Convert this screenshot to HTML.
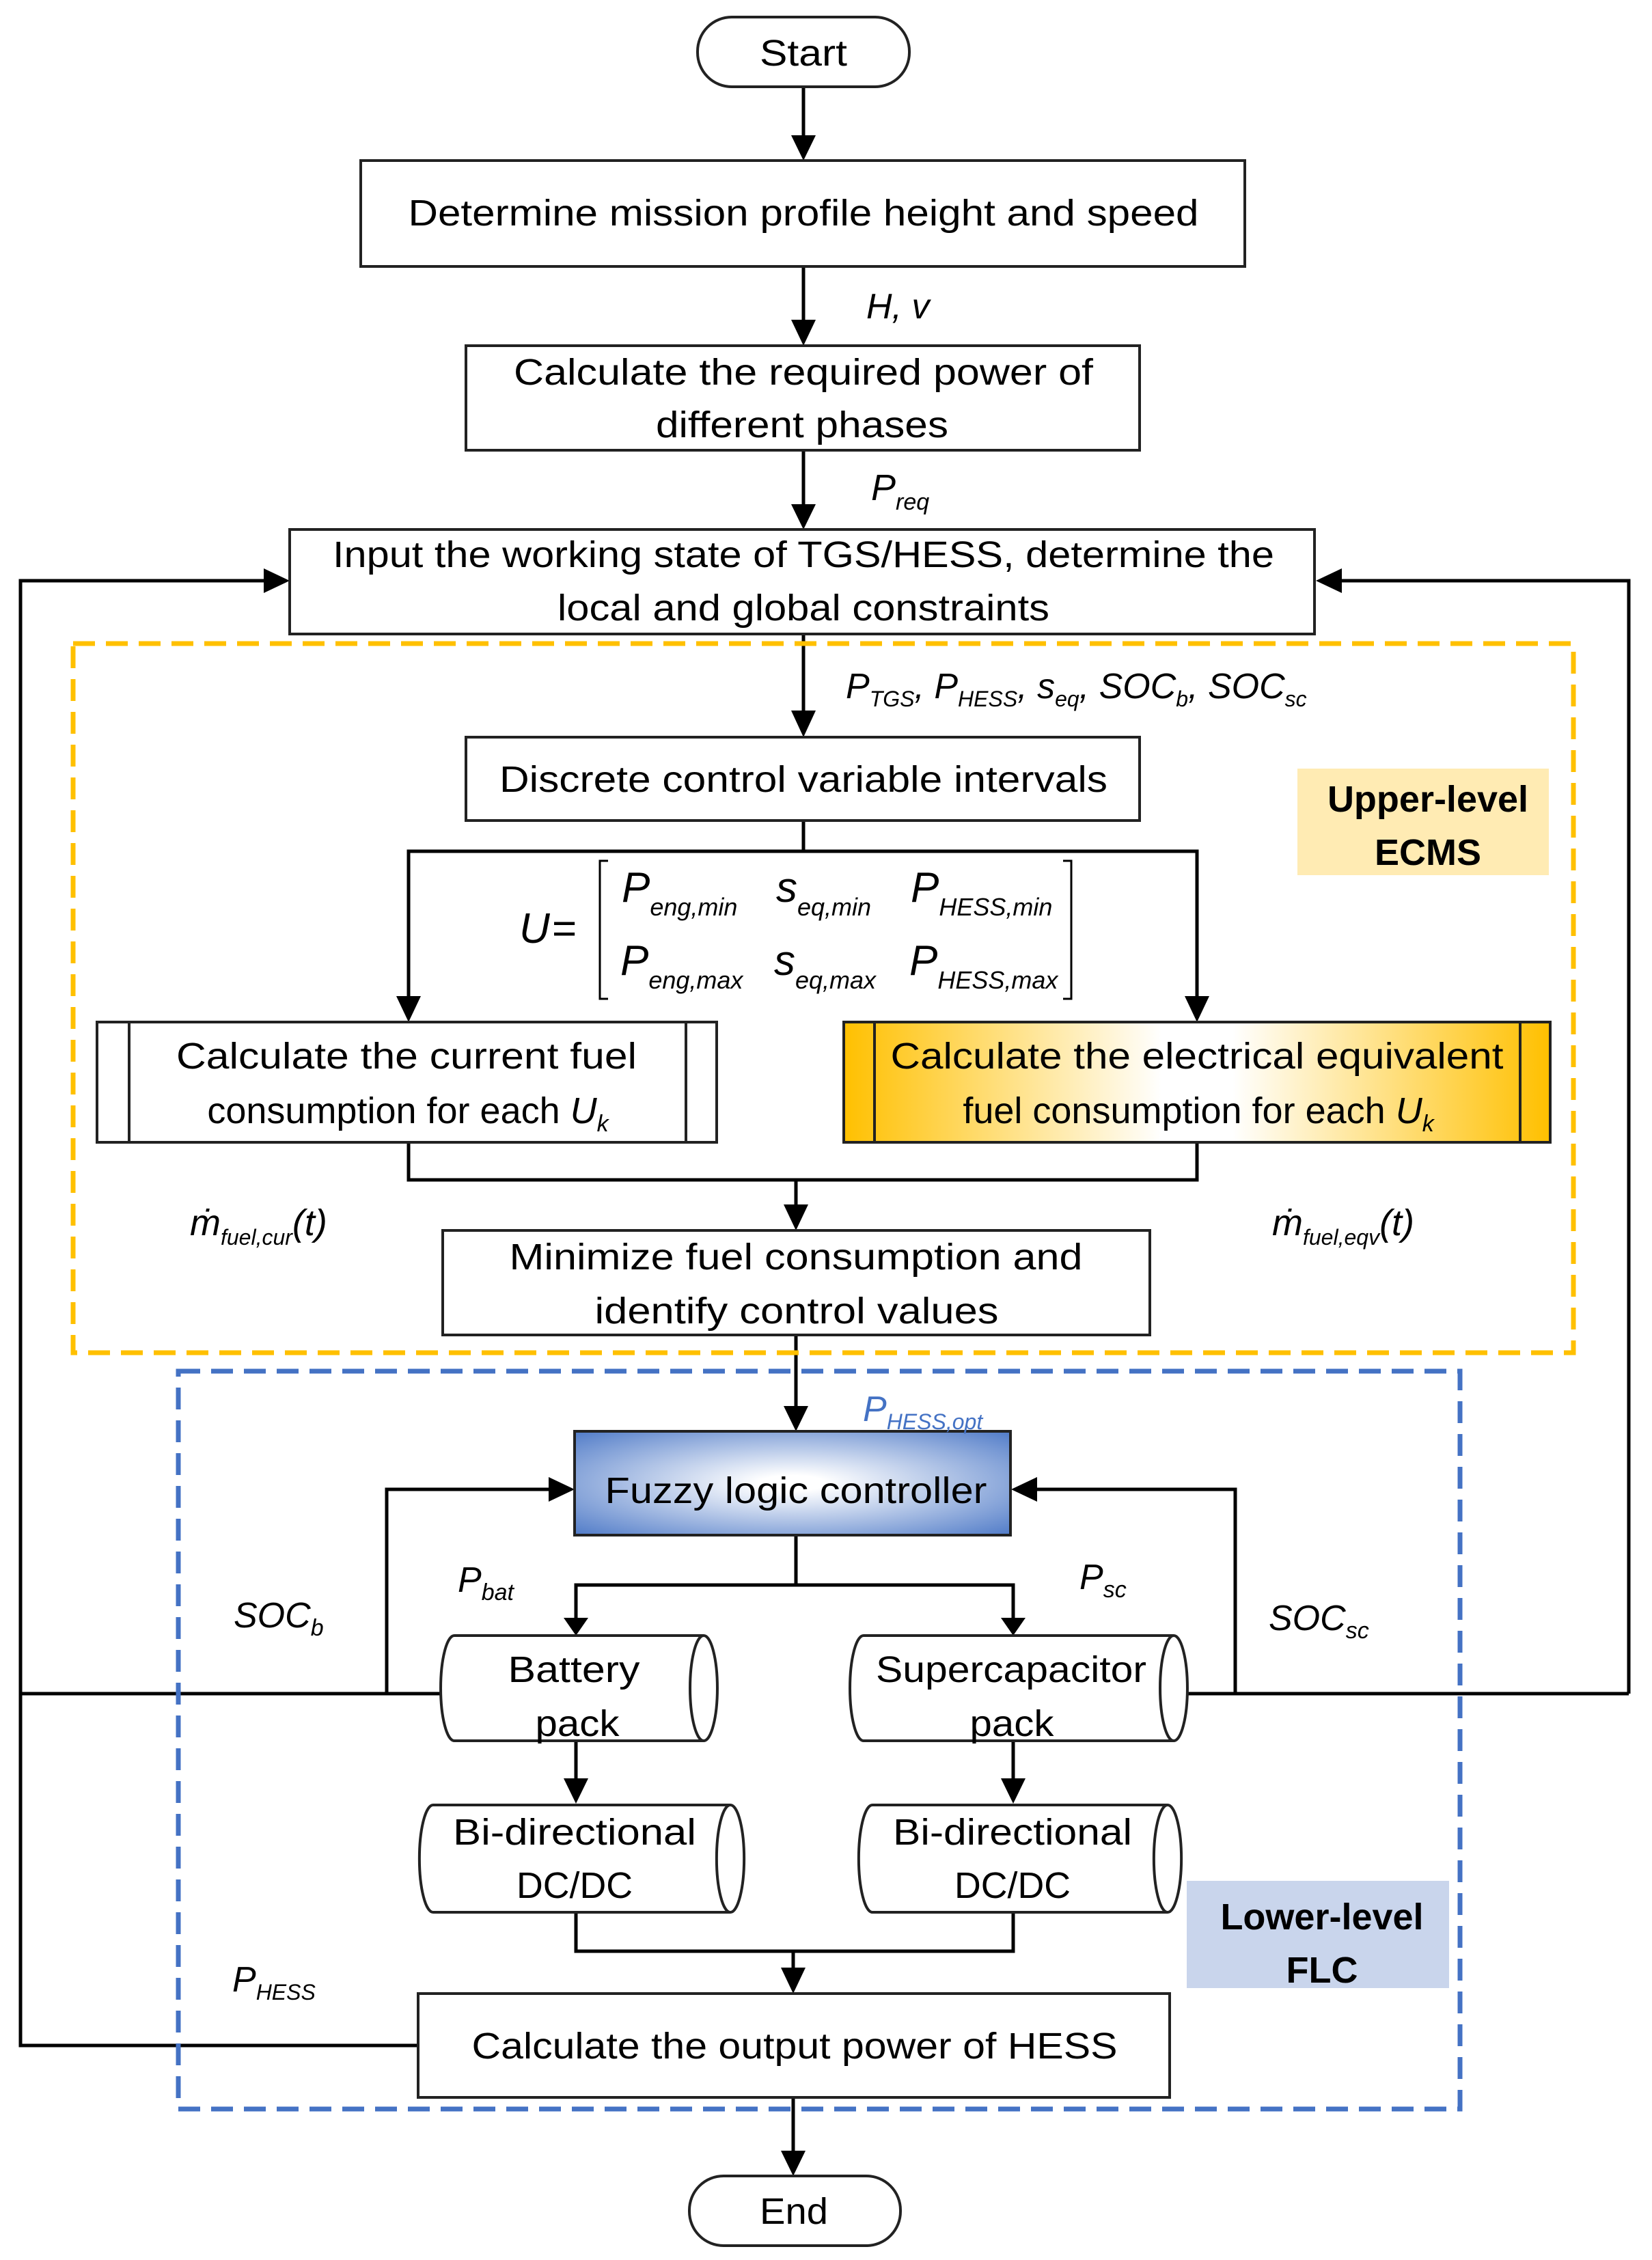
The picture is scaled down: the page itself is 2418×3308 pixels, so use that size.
<!DOCTYPE html>
<html><head><meta charset="utf-8"><style>
html,body{margin:0;padding:0;background:#fff;}
svg{display:block;}
text{font-family:"Liberation Sans",sans-serif;fill:#000;}
.t{font-size:54px;text-anchor:middle;}
.b{font-weight:bold;font-size:54px;text-anchor:middle;}
</style></head><body>
<svg width="2418" height="3308" viewBox="0 0 2418 3308" xmlns="http://www.w3.org/2000/svg">
<defs>
<linearGradient id="yg" x1="0" y1="0" x2="1" y2="0">
<stop offset="0" stop-color="#FFC000"/><stop offset="0.45" stop-color="#fff"/><stop offset="0.55" stop-color="#fff"/><stop offset="1" stop-color="#FFC000"/>
</linearGradient>
<radialGradient id="bg" cx="0.5" cy="0.5" r="0.75">
<stop offset="0.1" stop-color="#fff"/><stop offset="1" stop-color="#4472C4"/>
</radialGradient>
</defs>
<g fill="none" stroke="#000" stroke-width="5">
<line x1="1176" y1="127" x2="1176" y2="200"/>
<line x1="1176" y1="390" x2="1176" y2="470"/>
<line x1="1176" y1="659" x2="1176" y2="740"/>
<line x1="1176" y1="930" x2="1176" y2="1042"/>
<line x1="1176" y1="1201" x2="1176" y2="1246"/>
<polyline points="598,1460 598,1246 1752,1246 1752,1460"/>
<polyline points="598,1672 598,1727 1752,1727 1752,1672"/>
<line x1="1165" y1="1727" x2="1165" y2="1765"/>
<line x1="1165" y1="1954" x2="1165" y2="2060"/>
<line x1="1165" y1="2247" x2="1165" y2="2320"/>
<polyline points="843,2370 843,2320 1483,2320 1483,2370"/>
<line x1="843" y1="2548" x2="843" y2="2605"/>
<line x1="1483" y1="2548" x2="1483" y2="2605"/>
<polyline points="843,2799 843,2856 1483,2856 1483,2799"/>
<line x1="1161" y1="2856" x2="1161" y2="2882"/>
<line x1="1161" y1="3070" x2="1161" y2="3150"/>
<polyline points="645,2479 30,2479"/>
<polyline points="566,2479 566,2180 805,2180"/>
<polyline points="1738,2479 2384,2479"/>
<polyline points="1808,2479 1808,2180 1516,2180"/>
<polyline points="612,2994 30,2994 30,850 388,850"/>
<polyline points="2384,2479 2384,850 1962,850"/>
</g>
<g fill="#000">
<polygon points="1158,198 1194,198 1176,235"/>
<polygon points="1158,468 1194,468 1176,506"/>
<polygon points="1158,738 1194,738 1176,775"/>
<polygon points="1158,1040 1194,1040 1176,1079"/>
<polygon points="580,1458 616,1458 598,1496"/>
<polygon points="1734,1458 1770,1458 1752,1496"/>
<polygon points="1147,1763 1183,1763 1165,1801"/>
<polygon points="1147,2058 1183,2058 1165,2095"/>
<polygon points="825,2368 861,2368 843,2394"/>
<polygon points="1465,2368 1501,2368 1483,2394"/>
<polygon points="825,2603 861,2603 843,2640"/>
<polygon points="1465,2603 1501,2603 1483,2640"/>
<polygon points="1143,2880 1179,2880 1161,2918"/>
<polygon points="1143,3148 1179,3148 1161,3185"/>
<polygon points="386,832 386,868 424,850"/>
<polygon points="1964,832 1964,868 1926,850"/>
<polygon points="803,2162 803,2198 841,2180"/>
<polygon points="1518,2162 1518,2198 1480,2180"/>
</g>
<rect x="107" y="942" width="2196" height="1038" fill="none" stroke="#FFC000" stroke-width="7" stroke-dasharray="32,16"/>
<rect x="261" y="2007" width="1876" height="1080" fill="none" stroke="#4472C4" stroke-width="7" stroke-dasharray="32,16"/>
<rect x="1899" y="1125" width="368" height="156" fill="#FFEBB3"/>
<text class="b" x="2090" y="1188">Upper-level</text>
<text class="b" x="2090" y="1266">ECMS</text>
<rect x="1737" y="2753" width="384" height="157" fill="#C9D5EC"/>
<text class="b" x="1935" y="2824">Lower-level</text>
<text class="b" x="1935" y="2902">FLC</text>
<g stroke-width="4" stroke="#222" fill="#fff">
<rect x="1021" y="25" width="310" height="102" rx="50"/>
<rect x="528" y="235" width="1294" height="155"/>
<rect x="682" y="506" width="986" height="153"/>
<rect x="424" y="775" width="1500" height="153"/>
<rect x="682" y="1079" width="986" height="122"/>
<rect x="142" y="1496" width="907" height="176"/>
<line x1="189" y1="1496" x2="189" y2="1672"/><line x1="1004" y1="1496" x2="1004" y2="1672"/>
<rect x="1235" y="1496" width="1034" height="176" fill="url(#yg)"/>
<line x1="1280" y1="1496" x2="1280" y2="1672"/><line x1="2225" y1="1496" x2="2225" y2="1672"/>
<rect x="648" y="1801" width="1035" height="153"/>
<rect x="841" y="2095" width="638" height="152" fill="url(#bg)"/>
<path d="M665,2394 L1030,2394 A20,77 0 0 1 1030,2548 L665,2548 A20,77 0 0 1 665,2394 Z M1030,2394 A20,77 0 0 0 1030,2548"/>
<path d="M1264,2394 L1718,2394 A20,77 0 0 1 1718,2548 L1264,2548 A20,77 0 0 1 1264,2394 Z M1718,2394 A20,77 0 0 0 1718,2548"/>
<path d="M634,2642 L1069,2642 A20,78 0 0 1 1069,2799 L634,2799 A20,78 0 0 1 634,2642 Z M1069,2642 A20,78 0 0 0 1069,2799"/>
<path d="M1277,2642 L1709,2642 A20,78 0 0 1 1709,2799 L1277,2799 A20,78 0 0 1 1277,2642 Z M1709,2642 A20,78 0 0 0 1709,2799"/>
<rect x="612" y="2918" width="1100" height="152"/>
<rect x="1009" y="3185" width="309" height="102" rx="50"/>
</g>
<text class="t" x="1176" y="96" textLength="128" lengthAdjust="spacingAndGlyphs">Start</text>
<text class="t" x="1176" y="330" textLength="1157" lengthAdjust="spacingAndGlyphs">Determine mission profile height and speed</text>
<text class="t" x="1176" y="563" textLength="848" lengthAdjust="spacingAndGlyphs">Calculate the required power of</text>
<text class="t" x="1174" y="640" textLength="428" lengthAdjust="spacingAndGlyphs">different phases</text>
<text class="t" x="1176" y="830" textLength="1378" lengthAdjust="spacingAndGlyphs">Input the working state of TGS/HESS, determine the</text>
<text class="t" x="1176" y="908" textLength="720" lengthAdjust="spacingAndGlyphs">local and global constraints</text>
<text class="t" x="1176" y="1159" textLength="890" lengthAdjust="spacingAndGlyphs">Discrete control variable intervals</text>
<text class="t" x="595" y="1564" textLength="674" lengthAdjust="spacingAndGlyphs">Calculate the current fuel</text>
<text class="t" x="597" y="1644">consumption for each <tspan font-style="italic">U</tspan><tspan font-style="italic" font-size="34" dy="12">k</tspan></text>
<text class="t" x="1752" y="1564" textLength="897" lengthAdjust="spacingAndGlyphs">Calculate the electrical equivalent</text>
<text class="t" x="1754" y="1644">fuel consumption for each <tspan font-style="italic">U</tspan><tspan font-style="italic" font-size="34" dy="12">k</tspan></text>
<text class="t" x="1165" y="1858" textLength="839" lengthAdjust="spacingAndGlyphs">Minimize fuel consumption and</text>
<text class="t" x="1166" y="1937" textLength="591" lengthAdjust="spacingAndGlyphs">identify control values</text>
<text class="t" x="1165" y="2200" textLength="559" lengthAdjust="spacingAndGlyphs">Fuzzy logic controller</text>
<text class="t" x="840" y="2462" textLength="193" lengthAdjust="spacingAndGlyphs">Battery</text>
<text class="t" x="845" y="2541" textLength="123" lengthAdjust="spacingAndGlyphs">pack</text>
<text class="t" x="1480" y="2462" textLength="396" lengthAdjust="spacingAndGlyphs">Supercapacitor</text>
<text class="t" x="1481" y="2541" textLength="123" lengthAdjust="spacingAndGlyphs">pack</text>
<text class="t" x="841" y="2700" textLength="356" lengthAdjust="spacingAndGlyphs">Bi-directional</text>
<text class="t" x="841" y="2778" textLength="170" lengthAdjust="spacingAndGlyphs">DC/DC</text>
<text class="t" x="1482" y="2700" textLength="350" lengthAdjust="spacingAndGlyphs">Bi-directional</text>
<text class="t" x="1482" y="2778" textLength="170" lengthAdjust="spacingAndGlyphs">DC/DC</text>
<text class="t" x="1163" y="3013" textLength="945" lengthAdjust="spacingAndGlyphs">Calculate the output power of HESS</text>
<text class="t" x="1162" y="3255" textLength="100" lengthAdjust="spacingAndGlyphs">End</text>
<g font-style="italic">
<text x="1268" y="466" font-size="52">H, v</text>
<text x="1275" y="732" font-size="54">P<tspan dy="14" font-size="34">req</tspan></text>
<text x="1238" y="1022" font-size="52">P<tspan dy="12" font-size="32">TGS</tspan><tspan dy="-12">, P</tspan><tspan dy="12" font-size="32">HESS</tspan><tspan dy="-12">, s</tspan><tspan dy="12" font-size="32">eq</tspan><tspan dy="-12">, SOC</tspan><tspan dy="12" font-size="32">b</tspan><tspan dy="-12">, SOC</tspan><tspan dy="12" font-size="32">sc</tspan></text>
<text x="278" y="1808" font-size="54">ṁ<tspan dy="14" font-size="32">fuel,cur</tspan><tspan dy="-14">(t)</tspan></text>
<text x="1862" y="1808" font-size="54">ṁ<tspan dy="14" font-size="32">fuel,eqv</tspan><tspan dy="-14">(t)</tspan></text>
<text x="1263" y="2080" font-size="52" style="fill:#4472C4">P<tspan dy="12" font-size="32">HESS,opt</tspan></text>
<text x="670" y="2330" font-size="52">P<tspan dy="12" font-size="34">bat</tspan></text>
<text x="1580" y="2326" font-size="52">P<tspan dy="12" font-size="34">sc</tspan></text>
<text x="342" y="2382" font-size="52">SOC<tspan dy="12" font-size="34">b</tspan></text>
<text x="1857" y="2386" font-size="52">SOC<tspan dy="12" font-size="34">sc</tspan></text>
<text x="340" y="2915" font-size="52">P<tspan dy="12" font-size="32">HESS</tspan></text>
<text x="760" y="1380" font-size="62">U</text>
<text x="910" y="1320" font-size="62">P<tspan dy="20" font-size="36">eng,min</tspan></text>
<text x="1136" y="1320" font-size="62">s<tspan dy="20" font-size="36">eq,min</tspan></text>
<text x="1333" y="1320" font-size="62">P<tspan dy="20" font-size="36">HESS,min</tspan></text>
<text x="908" y="1427" font-size="62">P<tspan dy="20" font-size="36">eng,max</tspan></text>
<text x="1133" y="1427" font-size="62">s<tspan dy="20" font-size="36">eq,max</tspan></text>
<text x="1331" y="1427" font-size="62">P<tspan dy="20" font-size="36">HESS,max</tspan></text>
</g>
<text x="808" y="1380" font-size="62">=</text>
<polyline points="890,1260 878,1260 878,1462 890,1462" fill="none" stroke="#000" stroke-width="3"/>
<polyline points="1556,1260 1568,1260 1568,1462 1556,1462" fill="none" stroke="#000" stroke-width="3"/>
</svg>
</body></html>
